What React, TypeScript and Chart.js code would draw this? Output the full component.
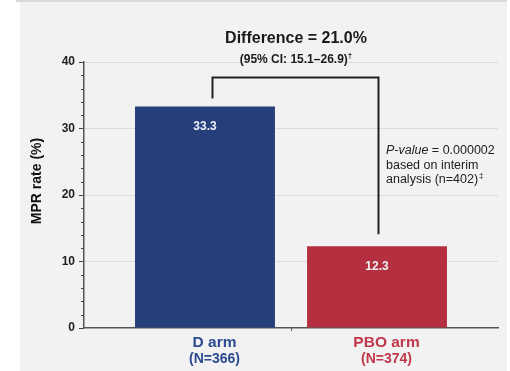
import React, { useEffect, useRef } from 'react';
import { Chart, registerables } from 'chart.js';

Chart.register(...registerables);

const categories = ['D arm', 'PBO arm'];
const sampleSizes = ['(N=366)', '(N=374)'];
const mprRates = [33.3, 12.3];
const yTickValues = [0, 10, 20, 30, 40];
const yMinorStep = 2;
const yAxisTitle = 'MPR rate (%)';
const differenceTitle = 'Difference = 21.0%';
const ciText = '(95% CI: 15.1–26.9)';
const ciMark = '†';
const pValueLabel = 'P-value';
const pValueText = ' = 0.000002';
const pValueNoteLines = ['based on interim', 'analysis (n=402)'];
const pValueMark = '‡';

const barColors = ['#253f7b', '#b43040'];
const labelColors = ['#2b4b8e', '#c0384a'];
const FONT = '"Liberation Sans", Arial, Helvetica, sans-serif';

const datasetIndexFor = (i: number) => categories.length - 1 - i;

const decor = {
  id: 'decor',
  beforeDraw(chart: any) {
    const { ctx, width, height } = chart;
    ctx.save();
    ctx.fillStyle = '#ffffff';
    ctx.fillRect(0, 0, width, height);
    ctx.fillStyle = '#f2f2f2';
    ctx.fillRect(20, 0, 487, height);
    ctx.fillStyle = '#d9d9d9';
    ctx.fillRect(16, 0, 491, 2);
    ctx.restore();
  },
  afterDraw(chart: any) {
    const { ctx, chartArea } = chart;
    const yS = chart.scales.y;
    const xS = chart.scales.x;
    ctx.save();

    // minor y ticks
    ctx.strokeStyle = '#444';
    ctx.lineWidth = 1;
    const maxV = yTickValues[yTickValues.length - 1];
    for (let v = yMinorStep; v < maxV; v += yMinorStep) {
      if (yTickValues.includes(v)) continue;
      const py = Math.round(yS.getPixelForValue(v)) + 0.5;
      ctx.beginPath();
      ctx.moveTo(chartArea.left - 3, py);
      ctx.lineTo(chartArea.left, py);
      ctx.stroke();
    }

    // x divider tick
    const mid = Math.round((xS.getPixelForValue(0) + xS.getPixelForValue(1)) / 2) + 0.5;
    ctx.strokeStyle = '#555';
    ctx.beginPath();
    ctx.moveTo(mid, chartArea.bottom);
    ctx.lineTo(mid, chartArea.bottom + 3);
    ctx.stroke();

    const bars = categories.map((_, i) => chart.getDatasetMeta(datasetIndexFor(i)).data[i]);

    // value labels in bars + category labels
    ctx.textAlign = 'center';
    bars.forEach((bar: any, i: number) => {
      ctx.fillStyle = '#eef0f6';
      ctx.font = `bold 12px ${FONT}`;
      ctx.textBaseline = 'middle';
      ctx.fillText(mprRates[i].toFixed(1), bar.x, bar.y + 20);
      ctx.textBaseline = 'alphabetic';
      ctx.fillStyle = labelColors[i];
      ctx.font = `bold 15.5px ${FONT}`;
      ctx.fillText(categories[i], bar.x + 9.5, chartArea.bottom + 19);
      ctx.font = `bold 14px ${FONT}`;
      ctx.fillText(sampleSizes[i], bar.x + 9.5, chartArea.bottom + 35);
    });

    // bracket
    const topY = Math.round(yS.getPixelForValue(37.7)) + 0.5;
    const lx = Math.round(bars[0].x + 7) + 0.5;
    const rx = Math.round(bars[1].x + 1) + 0.5;
    ctx.strokeStyle = '#222';
    ctx.lineWidth = 2;
    ctx.beginPath();
    ctx.moveTo(lx, bars[0].y - 8);
    ctx.lineTo(lx, topY);
    ctx.lineTo(rx, topY);
    ctx.lineTo(rx, bars[1].y - 12);
    ctx.stroke();

    // titles
    const cx = 296;
    ctx.fillStyle = '#1a1a1a';
    ctx.textAlign = 'center';
    ctx.font = `bold 16px ${FONT}`;
    ctx.fillText(differenceTitle, cx, 43);
    ctx.font = `bold 12px ${FONT}`;
    const ciW = ctx.measureText(ciText).width;
    ctx.font = `bold 8px ${FONT}`;
    const mW = ctx.measureText(ciMark).width;
    const ciLeft = cx - (ciW + mW) / 2;
    ctx.textAlign = 'left';
    ctx.font = `bold 12px ${FONT}`;
    ctx.fillText(ciText, ciLeft, 63);
    ctx.font = `bold 8px ${FONT}`;
    ctx.fillText(ciMark, ciLeft + ciW, 58);

    // p-value note
    const px = 386;
    ctx.fillStyle = '#222';
    ctx.font = `italic 12.5px ${FONT}`;
    ctx.fillText(pValueLabel, px, 154);
    const pw = ctx.measureText(pValueLabel).width;
    ctx.font = `12.5px ${FONT}`;
    ctx.fillText(pValueText, px + pw, 154);
    pValueNoteLines.forEach((line, k) => {
      ctx.font = `12.5px ${FONT}`;
      const by = 168.5 + k * 14.5;
      ctx.fillText(line, px, by);
      if (k === pValueNoteLines.length - 1) {
        const lw = ctx.measureText(line).width;
        ctx.font = `8px ${FONT}`;
        ctx.fillText(pValueMark, px + lw + 1, by - 5);
      }
    });

    // y-axis title
    ctx.save();
    ctx.translate(41, 181);
    ctx.rotate(-Math.PI / 2);
    ctx.textAlign = 'center';
    ctx.textBaseline = 'alphabetic';
    ctx.fillStyle = '#111';
    ctx.font = `bold 14px ${FONT}`;
    ctx.fillText(yAxisTitle, 0, 0);
    ctx.restore();

    ctx.restore();
  },
};

export default function App() {
  const canvasRef = useRef<HTMLCanvasElement | null>(null);

  useEffect(() => {
    const canvas = canvasRef.current;
    if (!canvas) return;
    const datasets = categories
      .map((c, i) => ({
        label: c,
        data: mprRates.map((v, j) => (j === i ? v : null)),
        backgroundColor: barColors[i],
        borderWidth: 0,
        categoryPercentage: 0.338,
        barPercentage: 4,
      }))
      .reverse();

    const chart = new Chart(canvas, {
      type: 'bar',
      data: { labels: categories, datasets: datasets as any },
      options: {
        animation: false,
        responsive: false,
        devicePixelRatio: 1,
        layout: { padding: { left: 20, right: 12, top: 62, bottom: 43 } },
        plugins: {
          legend: { display: false },
          tooltip: { enabled: false },
          title: { display: false },
        },
        scales: {
          x: {
            grid: { display: false, drawTicks: false },
            border: { display: true, color: '#555', width: 1.5 },
            ticks: { display: false },
          },
          y: {
            min: 0,
            max: 40,
            afterBuildTicks: (scale: any) => {
              scale.ticks = yTickValues.map((v) => ({ value: v }));
            },
            afterFit: (scale: any) => {
              scale.width = 64;
            },
            grid: {
              color: (c: any) => (c.tick && c.tick.value === 0 ? 'rgba(0,0,0,0)' : '#dcdcdc'),
              tickColor: '#444',
              tickLength: 5,
              lineWidth: 1,
            },
            border: { display: true, color: '#555', width: 1.5 },
            ticks: {
              padding: 4,
              color: '#222',
              font: { family: FONT, size: 12, weight: 'bold' },
            },
          },
        },
      },
      plugins: [decor],
    });
    return () => chart.destroy();
  }, []);

  return (
    <div style={{ position: 'fixed', left: 0, top: 0, width: 510, height: 371 }}>
      <canvas ref={canvasRef} width={510} height={371} style={{ width: 510, height: 371 }} />
    </div>
  );
}
